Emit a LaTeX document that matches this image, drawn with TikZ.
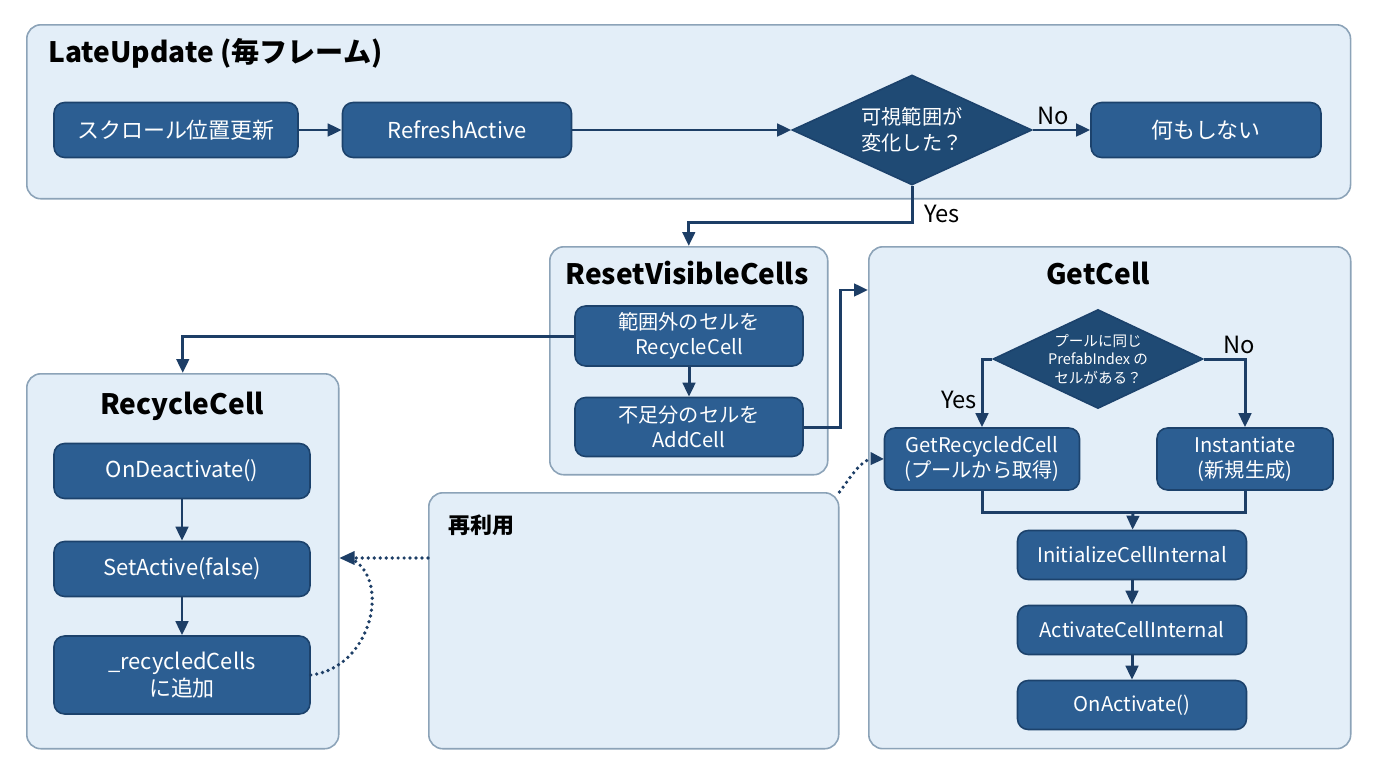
\documentclass[tikz,border=0pt]{standalone}
\usepackage{fontspec}
\setmainfont{Noto Sans CJK JP}
\usepackage{tikz}
\usetikzlibrary{arrows,arrows.meta,shapes.geometric}

\definecolor{boxblue}{RGB}{44,94,146}
\definecolor{boxedge}{RGB}{28,66,108}
\definecolor{diablue}{RGB}{31,74,116}
\definecolor{panelfill}{RGB}{227,238,248}
\definecolor{paneledge}{RGB}{140,163,184}
\definecolor{arrowblue}{RGB}{29,62,102}

\begin{document}
\begin{tikzpicture}%
        [x=0.02cm, y=-0.02cm,
        panel/.style={draw=paneledge, fill=panelfill, line width=0.9pt, rounded corners=8pt, anchor=north west, inner sep=0pt},
        ptitle/.style={font=\fontsize{16}{18}\selectfont\bfseries, text=black, inner sep=0pt},
        box/.style={draw=boxedge, fill=boxblue, line width=0.9pt, rounded corners=6pt, text=white, align=center, inner sep=0pt, font=\fontsize{11.5}{14.5}\selectfont},
        bigbox/.style={box, font=\fontsize{12.5}{15}\selectfont},
        decision/.style={diamond, draw=boxedge, fill=diablue, line width=0.9pt, text=white, align=center, inner sep=0pt},
        lbl/.style={font=\fontsize{13.5}{15}\selectfont, text=black, inner sep=2pt},
        line/.style={draw=arrowblue, line width=1.7pt},
        flow/.style={line, -{Triangle[length=2.8mm,width=2.5mm]}},
        reuse/.style={draw=arrowblue, line width=2.1pt, line cap=round, dash pattern=on 0pt off 3.4pt}]
    %
    \useasboundingbox (0,0) rectangle (1376,768);
    %
    %% Panels
    \node[panel, minimum width=26.48cm, minimum height=3.48cm] (late) at (26,24) {};
    \node[panel, minimum width=5.56cm, minimum height=4.56cm] (reset) at (549,246) {};
    \node[panel, minimum width=9.64cm, minimum height=10.04cm] (getcell) at (868,246) {};
    \node[panel, minimum width=6.24cm, minimum height=7.5cm] (recycle) at (26,373) {};
    \node[panel, minimum width=8.2cm, minimum height=5.12cm] (reusebox) at (428,492) {};
    %
    %% Panel titles
    \node[ptitle, anchor=west] (latetitle) at (48,53) {LateUpdate (毎フレーム)};
    \node[ptitle] (resettitle) at (687,273) {ResetVisibleCells};
    \node[ptitle] (gettitle) at (1098,273) {GetCell};
    \node[ptitle] (recycletitle) at (182,406) {RecycleCell};
    \node[ptitle, anchor=west, font=\fontsize{12.5}{15}\selectfont\bfseries] (reusetitle) at (448,525) {再利用};
    %
    %% LateUpdate row
    \node[bigbox, minimum width=4.88cm, minimum height=1.1cm] (scroll) at (176,130) {スクロール位置更新};
    \node[bigbox, minimum width=4.58cm, minimum height=1.1cm] (refresh) at (457,130) {RefreshActive};
    \node[decision, minimum width=4.8cm, minimum height=2.2cm, aspect=2.2, font=\fontsize{11.5}{15}\selectfont] (changed) at (912,130) {可視範囲が\\変化した？};
    \node[bigbox, minimum width=4.6cm, minimum height=1.1cm] (nothing) at (1206,130) {何もしない};
    %
    %% ResetVisibleCells
    \node[box, minimum width=4.56cm, minimum height=1.2cm] (outrange) at (689,336) {範囲外のセルを\\RecycleCell};
    \node[box, minimum width=4.56cm, minimum height=1.18cm] (shortage) at (689,427) {不足分のセルを\\AddCell};
    %
    %% RecycleCell
    \node[bigbox, minimum width=5.12cm, minimum height=1.1cm] (ondeact) at (182,471) {OnDeactivate()};
    \node[bigbox, minimum width=5.12cm, minimum height=1.1cm] (setactive) at (182,569) {SetActive(false)};
    \node[bigbox, minimum width=5.12cm, minimum height=1.56cm] (pooled) at (182,675) {\_recycledCells\\に追加};
    %
    %% GetCell
    \node[decision, minimum width=4.2cm, minimum height=1.98cm, aspect=2.12, font=\fontsize{8.3}{10.5}\selectfont] (pool) at (1098,359) {プールに同じ\\PrefabIndex の\\セルがある？};
    \node[box, minimum width=3.9cm, minimum height=1.24cm] (getrec) at (982,459) {GetRecycledCell\\(プールから取得)};
    \node[box, minimum width=3.52cm, minimum height=1.24cm] (inst) at (1245,459) {Instantiate\\(新規生成)};
    \node[box, minimum width=4.58cm, minimum height=0.98cm] (init) at (1132,555) {InitializeCellInternal};
    \node[box, minimum width=4.58cm, minimum height=0.98cm] (activ) at (1132,630) {ActivateCellInternal};
    \node[box, minimum width=4.58cm, minimum height=0.98cm] (onact) at (1132,705) {OnActivate()};
    %
    %% Helper points
    \coordinate (merge) at (1133,512);
    \coordinate (reusein) at ([yshift=-1.32cm]reusebox.north west);
    \coordinate (reusetip) at (reusein -| recycle.east);
    %
    %% Flow in LateUpdate
    \draw[flow] (scroll) -- (refresh);
    \draw[flow] (refresh) -- (changed);
    \draw[flow] (changed) -- node[lbl, pos=0.35, above] {No} (nothing);
    \draw[flow] (changed.south) -- node[lbl, pos=0.75, right, xshift=4pt] {Yes} ++(0,37) -| (reset.north);
    %
    %% ResetVisibleCells branches
    \draw[flow] (outrange) -- (shortage);
    \draw[flow] (outrange.west) -| (recycle.north);
    \draw[flow] (shortage.east) -- ++(37,0) |- ([yshift=-0.88cm]getcell.north west);
    %
    %% RecycleCell chain
    \draw[flow] (ondeact) -- (setactive);
    \draw[flow] (setactive) -- (pooled);
    %
    %% GetCell branches
    \draw[flow] (pool.west) -| node[lbl, pos=0.8, left] {Yes} (getrec.north);
    \draw[flow] (pool.east) -| node[lbl, pos=0.3, above, xshift=6pt] {No} (inst.north);
    \draw[line] (getrec.south) |- (merge) -| (inst.south);
    \draw[flow] (merge) -- (init);
    \draw[flow] (init) -- (activ);
    \draw[flow] (activ) -- (onact);
    %
    %% Reuse (dotted)
    \draw[reuse] (reusein) -- ([xshift=6pt]reusetip);
    \fill[arrowblue] (reusetip) -- ++(15,-7) -- ++(0,14) -- cycle;
    \draw[reuse] (pooled.east) .. controls (372,668) and (392,578) .. ([xshift=6pt]reusetip);
    \draw[reuse] (reusebox.north east) .. controls (850,478) and (858,464) .. ([xshift=-8pt]getrec.west);
    \fill[arrowblue] (getrec.west) -- ++(-13,-7) -- ++(0,13) -- cycle;
    %%
\end{tikzpicture}
\end{document}
